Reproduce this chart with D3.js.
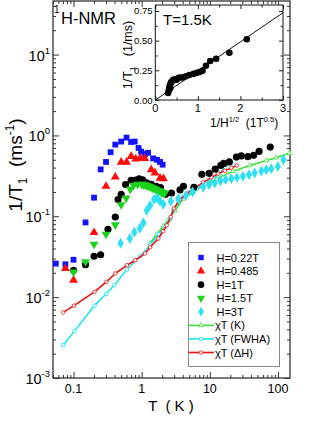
<!DOCTYPE html>
<html>
<head>
<meta charset="utf-8">
<script src="https://cdn.jsdelivr.net/npm/d3@7"></script>
<style>
body { margin: 0; background: #fff; }
svg { display: block; font-family: Arial, "Liberation Sans", sans-serif; }
</style>
</head>
<body>
<script>
// H=0.22T
var tBlue = [0.055,0.076,0.10,0.15,0.20,0.25,0.30,0.35,0.41,0.50,0.60,0.70,0.79,0.90,0.98,1.12,1.24,1.47,1.68,1.86,2.03];
var rBlue = [0.026,0.0255,0.029,0.084,0.17,0.38,0.47,0.62,0.77,0.84,0.94,0.83,0.84,0.70,0.63,0.59,0.61,0.52,0.50,0.47,0.435];
// H=0.485
var tRed = [0.076,0.10,0.20,0.30,0.41,0.50,0.60,0.70,0.82,0.95,1.11,1.38,1.57,1.86,2.09];
var rRed = [0.0226,0.0162,0.063,0.235,0.306,0.468,0.468,0.55,0.513,0.523,0.52,0.377,0.344,0.297,0.292];
// H=1T
var tBlack = [0.10,0.15,0.20,0.25,0.32,0.41,0.45,0.50,0.58,0.70,0.82,0.92,1.03,1.19,1.38,1.63,1.89,2.24,2.74,3.65,4.10,5.84,7.64,9.77,12.0,14.5,16.0,19.3,24.5,29.0,36.2,43.9,52.8,76.9];
var rBlack = [0.0215,0.0252,0.0321,0.0335,0.069,0.098,0.161,0.187,0.247,0.278,0.281,0.29,0.282,0.259,0.248,0.235,0.226,0.187,0.194,0.212,0.235,0.228,0.33,0.34,0.383,0.426,0.451,0.471,0.54,0.558,0.546,0.567,0.635,0.717];
// H=1.5T
var tGreen = [0.10,0.15,0.20,0.30,0.41,0.50,0.59,0.68,0.76,0.87,1.0,1.06,1.12,1.19,1.26,1.34,1.42,1.51,1.60,1.68,1.77,1.86,1.96,2.07,2.17];
var rGreen = [0.0204,0.0274,0.0451,0.060,0.0785,0.139,0.168,0.216,0.241,0.248,0.248,0.244,0.245,0.24,0.235,0.232,0.225,0.222,0.216,0.21,0.206,0.203,0.1995,0.196,0.192];
// H=3T
var tCyan = [0.49,0.67,0.78,0.94,1.06,1.19,1.33,1.52,1.68,1.86,2.08,2.67,3.44,4.46,5.59,7.98,9.77,11.8,14.3,17.1,20.7,25.0,30.6,37.5,45.4,56.9,67.3,79.6,99.4,120];
var rCyan = [0.0464,0.0531,0.0634,0.0711,0.0832,0.1186,0.1367,0.162,0.169,0.153,0.1407,0.153,0.1655,0.1816,0.1995,0.23,0.246,0.258,0.273,0.284,0.292,0.301,0.312,0.327,0.343,0.362,0.377,0.388,0.414,0.501];
// chi T (K)
var tChiK = [1.33,1.67,2.08,2.46,3.08,4.08,5.70,7.98,12.5,21.9,38.4,67.3,94.1,147];
var rChiK = [0.0464,0.060,0.0753,0.0893,0.1186,0.1645,0.1995,0.241,0.292,0.362,0.426,0.491,0.531,0.605];
// chi T (FWHA)
var tChiW = [0.0707,0.103,0.203,0.303,0.397,0.608,0.951,1.33,1.76,2.20,2.61,2.91,3.44,4.08,5.10,6.40,8.45,11.2,14.0,16.6,20.7];
var rChiW = [0.00255,0.0038,0.00785,0.011,0.01406,0.022,0.0321,0.0439,0.060,0.0738,0.0937,0.1186,0.150,0.173,0.1995,0.22,0.2533,0.292,0.34,0.403,0.455];
// chi T (dH)
var tChiH = [0.0707,0.1017,0.203,0.303,0.41,0.608,0.804,1.125,1.331,1.759,2.06,2.33,2.67,2.98,3.65,4.57,6.04,7.98,10.6,13.2,16.6,20.7,24.8];
var rChiH = [0.00647,0.00785,0.0116,0.01545,0.0196,0.0248,0.0286,0.0347,0.0414,0.0531,0.0653,0.0774,0.098,0.1255,0.161,0.1906,0.225,0.263,0.303,0.337,0.365,0.397,0.426];
// inset, T=1.5K
var insetX = [0.30,0.32,0.33,0.35,0.35,0.37,0.39,0.42,0.47,0.50,0.54,0.58,0.64,0.72,0.80,0.90,0.98,1.04,1.11,1.19,1.29,1.43,1.74,2.15];
var insetY = [0.06,0.085,0.11,0.13,0.10,0.15,0.155,0.17,0.175,0.17,0.185,0.19,0.19,0.20,0.21,0.22,0.23,0.236,0.247,0.289,0.328,0.348,0.398,0.511];
var fitX = [0, 3];
var fitY = [0, 0.735];

var xMajor = [0.1, 1, 10, 100];
var yMajor = [1e-3, 1e-2, 1e-1, 1, 10];
var insetXTicks = [0, 1, 2, 3];
var insetYTicks = [0, 0.25, 0.5, 0.75];

var legendNames = ["H=0.22T", "H=0.485", "H=1T", "H=1.5T", "H=3T", "\u03c7T (K)", "\u03c7T (FWHA)", "\u03c7T (\u0394H)"];

var svg = d3.select("body").append("svg")
  .attr("width", 327)
  .attr("height", 423);

var pL = 53, pR = 290, pT = 1, pB = 378;

var x = d3.scaleLog().domain([0.05, 150]).range([pL, pR]);
var y = d3.scaleLog().domain([1e-3, 46]).range([pB, pT]);

function isMajor(d) {
  var l = Math.log10(d);
  return Math.abs(l - Math.round(l)) < 1e-6;
}
var xMinor = x.ticks().filter(function (d) { return !isMajor(d); });
var yMinor = y.ticks().filter(function (d) { return !isMajor(d); });

var axisColor = "#333";

function tickAxis(axisFn, scale, vals, size, tr) {
  var g = svg.append("g")
    .attr("transform", tr)
    .call(axisFn(scale).tickValues(vals).tickSize(-size).tickFormat(""));
  g.select(".domain").remove();
  g.selectAll("line").attr("stroke", axisColor).attr("stroke-width", 1);
  return g;
}

// minor + major ticks on all four sides, pointing inwards
tickAxis(d3.axisBottom, x, xMinor, 3, "translate(0," + pB + ")");
tickAxis(d3.axisBottom, x, xMajor, 6, "translate(0," + pB + ")");
tickAxis(d3.axisTop, x, xMinor, 3, "translate(0," + pT + ")");
tickAxis(d3.axisTop, x, xMajor, 6, "translate(0," + pT + ")");
tickAxis(d3.axisLeft, y, yMinor, 3, "translate(" + pL + ",0)");
tickAxis(d3.axisLeft, y, yMajor, 6, "translate(" + pL + ",0)");
tickAxis(d3.axisRight, y, yMinor, 3, "translate(" + pR + ",0)");
tickAxis(d3.axisRight, y, yMajor, 6, "translate(" + pR + ",0)");

svg.append("rect")
  .attr("x", pL).attr("y", pT)
  .attr("width", pR - pL).attr("height", pB - pT)
  .attr("fill", "none")
  .attr("stroke", axisColor)
  .attr("stroke-width", 1.3);

// x tick labels
svg.selectAll(".xlab")
  .data(xMajor)
  .enter().append("text")
  .attr("x", function (d) { return x(d); })
  .attr("y", pB + 15)
  .attr("text-anchor", "middle")
  .attr("font-size", 12.5)
  .text(d3.format("~g"));

// y tick labels 10^n
var ylab = svg.selectAll(".ylab")
  .data(yMajor)
  .enter().append("text")
  .attr("x", 50)
  .attr("y", function (d) { return y(d) + 6; })
  .attr("text-anchor", "end")
  .attr("font-size", 14.5);
ylab.append("tspan").text("10");
ylab.append("tspan")
  .attr("dy", -7)
  .attr("font-size", 9.5)
  .text(function (d) { return String(Math.round(Math.log10(d))); });

// axis titles
svg.append("text")
  .attr("x", 171)
  .attr("y", 411)
  .attr("text-anchor", "middle")
  .attr("font-size", 15)
  .style("white-space", "pre")
  .text("T  ( K )");

var yt = svg.append("text")
  .attr("transform", "translate(22,165) rotate(-90)")
  .attr("text-anchor", "middle")
  .attr("font-size", 19)
  .style("white-space", "pre");
yt.append("tspan").text("1/T");
yt.append("tspan").attr("dy", 5).attr("font-size", 12).text("1");
yt.append("tspan").attr("dy", -5).text("  (ms");
yt.append("tspan").attr("dy", -8).attr("font-size", 12).text("-1");
yt.append("tspan").attr("dy", 8).text(")");

// 1H-NMR label
svg.append("text").attr("x", 54).attr("y", 13).attr("font-size", 10).text("1");
svg.append("text").attr("x", 61).attr("y", 23.5).attr("font-size", 16.5).text("H-NMR");

// chi T curves
function zip(a, b) { return a.map(function (d, i) { return [d, b[i]]; }); }
var line = d3.line()
  .x(function (d) { return x(d[0]); })
  .y(function (d) { return y(d[1]); });

var curves = [
  {t: tChiK, r: rChiK, color: "#3be03b", sym: d3.symbolTriangle},
  {t: tChiW, r: rChiW, color: "#1ee6f5", sym: d3.symbolSquare},
  {t: tChiH, r: rChiH, color: "#ee1111", sym: d3.symbolCircle}
];
curves.forEach(function (c) {
  var pts = zip(c.t, c.r);
  svg.append("path")
    .attr("d", line(pts))
    .attr("fill", "none")
    .attr("stroke", c.color)
    .attr("stroke-width", 1.6);
  svg.selectAll(null)
    .data(pts)
    .enter().append("path")
    .attr("d", d3.symbol().type(c.sym).size(10))
    .attr("transform", function (d) { return "translate(" + x(d[0]) + "," + y(d[1]) + ")"; })
    .attr("fill", "#fff")
    .attr("stroke", c.color)
    .attr("stroke-width", 0.8);
});

// data markers
var series = [
  {t: tBlue, r: rBlue, color: "#1414ff", sym: d3.symbolSquare, size: 34, rot: 0},
  {t: tRed, r: rRed, color: "#ff0a0a", sym: d3.symbolTriangle, size: 34, rot: 0},
  {t: tBlack, r: rBlack, color: "#000", sym: d3.symbolCircle, size: 40, rot: 0},
  {t: tGreen, r: rGreen, color: "#1ad21a", sym: d3.symbolTriangle, size: 34, rot: 180},
  {t: tCyan, r: rCyan, color: "#2ee0f5", sym: d3.symbolDiamond, size: 34, rot: 0}
];
series.forEach(function (s) {
  svg.selectAll(null)
    .data(zip(s.t, s.r))
    .enter().append("path")
    .attr("d", d3.symbol().type(s.sym).size(s.size))
    .attr("transform", function (d) {
      return "translate(" + x(d[0]) + "," + y(d[1]) + ") rotate(" + s.rot + ")";
    })
    .attr("fill", s.color);
});

// legend
var lg = svg.append("g");
lg.append("rect")
  .attr("x", 188.5).attr("y", 242.5)
  .attr("width", 91).attr("height", 124)
  .attr("fill", "#fff")
  .attr("stroke", "#888")
  .attr("stroke-width", 1);
var rowY = d3.scaleLinear().domain([0, legendNames.length - 1]).range([257.5, 352.5]);
legendNames.forEach(function (name, i) {
  var yy = rowY(i);
  if (i < series.length) {
    var s = series[i];
    lg.append("path")
      .attr("d", d3.symbol().type(s.sym).size(s.size * 0.85))
      .attr("transform", "translate(201," + yy + ") rotate(" + s.rot + ")")
      .attr("fill", s.color);
    lg.append("text").attr("x", 216.5).attr("y", yy + 4).attr("font-size", 11).text(name);
  } else {
    var c = curves[i - series.length];
    lg.append("line")
      .attr("x1", 188.5).attr("x2", 214).attr("y1", yy).attr("y2", yy)
      .attr("stroke", c.color).attr("stroke-width", 1.6);
    lg.append("path")
      .attr("d", d3.symbol().type(c.sym).size(10))
      .attr("transform", "translate(201," + yy + ")")
      .attr("fill", "#fff").attr("stroke", c.color).attr("stroke-width", 0.8);
    lg.append("text").attr("x", 215).attr("y", yy + 4).attr("font-size", 11)
      .style("white-space", "pre").text(name);
  }
});

// inset
var ix = d3.scaleLinear().domain([0, 3]).range([155.3, 283]);
var iy = d3.scaleLinear().domain([0, 0.8]).range([100, 5]);

svg.append("rect")
  .attr("x", 155.3).attr("y", 5)
  .attr("width", 283 - 155.3).attr("height", 95)
  .attr("fill", "#fff");

svg.append("clipPath").attr("id", "insetClip")
  .append("rect").attr("x", 155.3).attr("y", 5).attr("width", 283 - 155.3).attr("height", 95);

function insetTicks(axisFn, scale, vals, size, tr) {
  var g = svg.append("g")
    .attr("transform", tr)
    .call(axisFn(scale).tickValues(vals).tickSize(-size).tickFormat(""));
  g.select(".domain").remove();
  g.selectAll("line").attr("stroke", "#222");
}
var ixMinor = d3.range(0.5, 3, 1);
var iyMinor = d3.range(0.125, 0.8, 0.25);
insetTicks(d3.axisBottom, ix, insetXTicks, 4, "translate(0,100)");
insetTicks(d3.axisBottom, ix, ixMinor, 2.5, "translate(0,100)");
insetTicks(d3.axisTop, ix, insetXTicks, 4, "translate(0,5)");
insetTicks(d3.axisTop, ix, ixMinor, 2.5, "translate(0,5)");
insetTicks(d3.axisLeft, iy, insetYTicks, 4, "translate(155.3,0)");
insetTicks(d3.axisLeft, iy, iyMinor, 2.5, "translate(155.3,0)");
insetTicks(d3.axisRight, iy, insetYTicks, 4, "translate(283,0)");
insetTicks(d3.axisRight, iy, iyMinor, 2.5, "translate(283,0)");

svg.append("rect")
  .attr("x", 155.3).attr("y", 5)
  .attr("width", 283 - 155.3).attr("height", 95)
  .attr("fill", "none")
  .attr("stroke", "#111")
  .attr("stroke-width", 1);

svg.append("line")
  .attr("clip-path", "url(#insetClip)")
  .attr("x1", ix(fitX[0])).attr("y1", iy(fitY[0]))
  .attr("x2", ix(fitX[1])).attr("y2", iy(fitY[1]))
  .attr("stroke", "#111")
  .attr("stroke-width", 1);

svg.selectAll(null)
  .data(zip(insetX, insetY))
  .enter().append("circle")
  .attr("cx", function (d) { return ix(d[0]); })
  .attr("cy", function (d) { return iy(d[1]); })
  .attr("r", 3.3)
  .attr("fill", "#000");

svg.selectAll(null)
  .data(insetXTicks)
  .enter().append("text")
  .attr("x", function (d) { return ix(d); })
  .attr("y", 112)
  .attr("text-anchor", "middle")
  .attr("font-size", 11)
  .text(function (d) { return d; });

svg.selectAll(null)
  .data(insetYTicks)
  .enter().append("text")
  .attr("x", 152.5)
  .attr("y", function (d) { return iy(d) + 3.5; })
  .attr("text-anchor", "end")
  .attr("font-size", 9.5)
  .text(d3.format(".2f"));

svg.append("text").attr("x", 163).attr("y", 25).attr("font-size", 15).text("T=1.5K");

var ixt = svg.append("text")
  .attr("x", 210).attr("y", 127)
  .attr("font-size", 12)
  .style("white-space", "pre");
ixt.append("tspan").text("1/H");
ixt.append("tspan").attr("dy", -5).attr("font-size", 7.5).text("1/2");
ixt.append("tspan").attr("dy", 5).text("  (1T");
ixt.append("tspan").attr("dy", -5).attr("font-size", 7.5).text("0.5");
ixt.append("tspan").attr("dy", 5).text(")");

var iyt = svg.append("text")
  .attr("transform", "translate(132,55) rotate(-90)")
  .attr("text-anchor", "middle")
  .attr("font-size", 12.5)
  .style("white-space", "pre");
iyt.append("tspan").text("1/T");
iyt.append("tspan").attr("dy", 3).attr("font-size", 8).text("1");
iyt.append("tspan").attr("dy", -3).text("   (1/ms)");
</script>
</body>
</html>
